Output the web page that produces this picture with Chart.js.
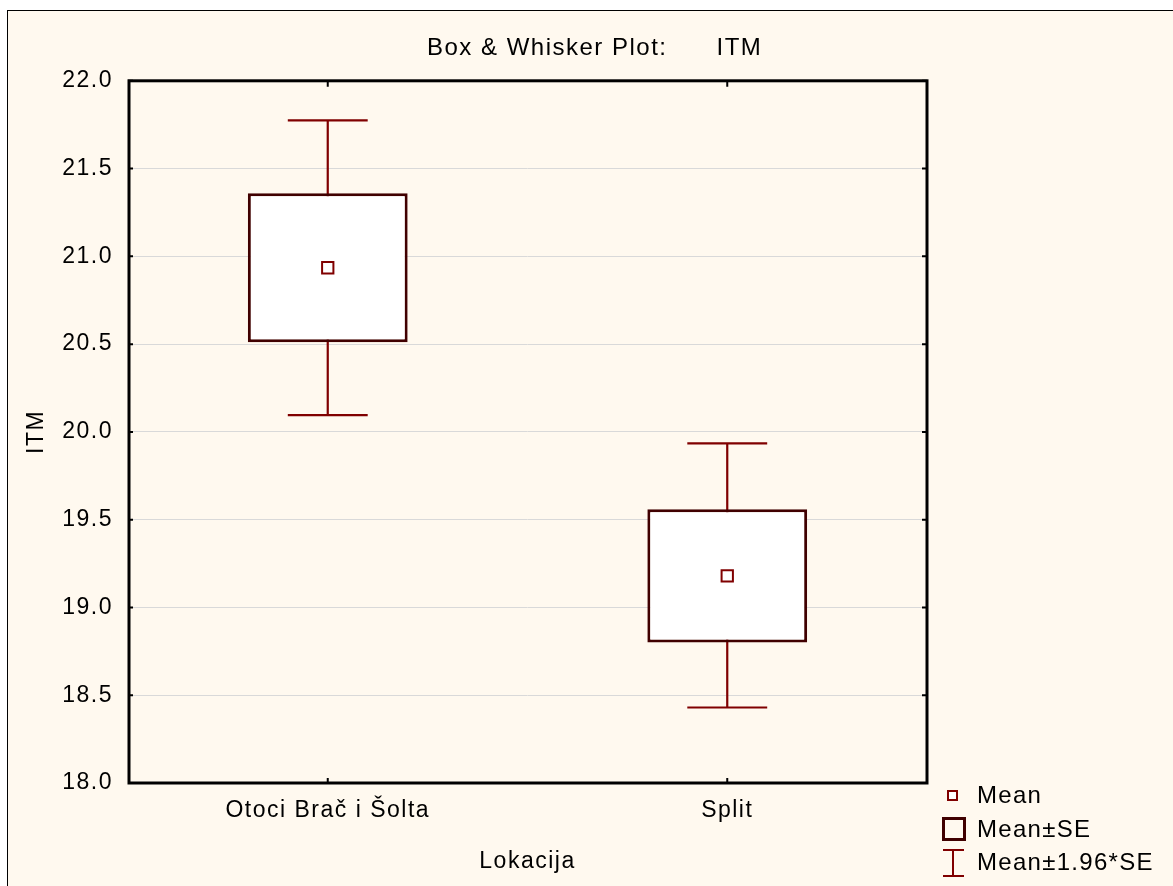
<!DOCTYPE html>
<html>
<head>
<meta charset="utf-8">
<script src="https://cdn.jsdelivr.net/npm/chart.js@4.4.1/dist/chart.umd.min.js"></script>
<style>
  html, body { margin: 0; padding: 0; background: #ffffff; width: 1173px; height: 886px; overflow: hidden; }
  #bg { position: absolute; left: 7px; top: 10px; width: 1170px; height: 880px;
        border-left: 1px solid #000; border-top: 1px solid #000; background: #FFF9EF; }
  #c { position: absolute; left: 0; top: 0; }
  .leg { position: absolute; left: 977px; font-family: "Liberation Sans", Arial, sans-serif;
         font-size: 24px; line-height: 24px; letter-spacing: 1.3px; color: #000; white-space: nowrap; }
  .ico { position: absolute; box-sizing: border-box; }
</style>
</head>
<body>
<div id="bg"></div>
<canvas id="c" width="1173" height="886" style="width:1173px;height:886px"></canvas>

<div class="ico" style="left:947px;top:790px;width:11px;height:11px;border:2px solid #800000;background:#fff"></div>
<div class="leg" style="top:783px">Mean</div>
<div class="ico" style="left:942px;top:817px;width:24px;height:24px;border:3px solid #400000;background:transparent"></div>
<div class="leg" style="top:817px">Mean±SE</div>
<div class="ico" style="left:943px;top:849px;width:21px;height:2px;background:#800000"></div>
<div class="ico" style="left:952px;top:849px;width:2px;height:28px;background:#800000"></div>
<div class="ico" style="left:943px;top:875px;width:21px;height:2px;background:#800000"></div>
<div class="leg" style="top:850px">Mean±1.96*SE</div>

<script>
// ---- data ----
const categories = ['Otoci Brač i Šolta', 'Split'];
const meanValues = [20.935, 19.18];
const seLow  = [20.51, 18.80];
const seHigh = [21.36, 19.56];
const ciLow  = [20.095, 18.43];
const ciHigh = [21.775, 19.935];
const yMin = 18.0, yMax = 22.0, yStep = 0.5;

const FONT = '"Liberation Sans", Arial, sans-serif';
Chart.defaults.font.family = FONT;
Chart.defaults.color = '#000';

const spacingPlugin = {
  id: 'spacing',
  beforeLayout(chart) { chart.ctx.letterSpacing = '1.5px'; },
  beforeDraw(chart) { chart.ctx.letterSpacing = '1.5px'; }
};

const whiskerPlugin = {
  id: 'whiskers',
  beforeDatasetsDraw(chart) {
    const ctx = chart.ctx, x = chart.scales.x, y = chart.scales.y;
    const catW = x.width / categories.length;
    const half = catW * 0.1;
    ctx.save();
    ctx.strokeStyle = '#800000';
    ctx.lineWidth = 2.2;
    categories.forEach((c, i) => {
      const px = x.getPixelForValue(i);
      const lo = y.getPixelForValue(ciLow[i]);
      const hi = y.getPixelForValue(ciHigh[i]);
      ctx.beginPath();
      ctx.moveTo(px, lo); ctx.lineTo(px, hi);
      ctx.moveTo(px - half, lo); ctx.lineTo(px + half, lo);
      ctx.moveTo(px - half, hi); ctx.lineTo(px + half, hi);
      ctx.stroke();
    });
    ctx.restore();
  }
};

const framePlugin = {
  id: 'frame',
  afterDatasetsDraw(chart) {
    const ctx = chart.ctx, a = chart.chartArea, x = chart.scales.x, y = chart.scales.y;
    ctx.save();
    ctx.strokeStyle = '#000';
    ctx.lineWidth = 2;
    ctx.beginPath();
    y.ticks.forEach(t => {
      const py = y.getPixelForValue(t.value);
      ctx.moveTo(a.left, py); ctx.lineTo(a.left + 5, py);
      ctx.moveTo(a.right - 5, py); ctx.lineTo(a.right, py);
    });
    categories.forEach((c, i) => {
      const px = x.getPixelForValue(i);
      ctx.moveTo(px, a.top); ctx.lineTo(px, a.top + 6);
      ctx.moveTo(px, a.bottom - 5); ctx.lineTo(px, a.bottom);
    });
    ctx.stroke();
    ctx.lineWidth = 3;
    ctx.strokeRect(a.left + 1, a.top, a.right - a.left - 1, a.bottom - a.top);
    ctx.restore();
  }
};

new Chart(document.getElementById('c'), {
  type: 'bar',
  data: {
    labels: categories,
    datasets: [
      {
        type: 'line',
        label: 'Mean',
        data: meanValues,
        showLine: false,
        pointStyle: 'rect',
        pointRadius: 8,
        pointHoverRadius: 8,
        pointBorderWidth: 2,
        pointBorderColor: '#800000',
        pointBackgroundColor: '#ffffff',
        order: 0
      },
      {
        type: 'bar',
        label: 'Mean±SE',
        data: seLow.map((l, i) => [l, seHigh[i]]),
        backgroundColor: '#ffffff',
        borderColor: '#400000',
        borderWidth: 3,
        borderSkipped: false,
        barPercentage: 0.4,
        categoryPercentage: 1,
        order: 1
      }
    ]
  },
  options: {
    responsive: false,
    animation: false,
    devicePixelRatio: 1,
    layout: { padding: 0 },
    plugins: {
      legend: { display: false },
      tooltip: { enabled: false },
      title: {
        display: true,
        text: '  Box & Whisker Plot:      ITM',
        color: '#000',
        font: { size: 24, weight: 'normal', family: FONT },
        padding: { top: 34, bottom: 18 }
      }
    },
    scales: {
      x: {
        type: 'category',
        offset: true,
        grid: { display: false, drawTicks: false },
        border: { display: false },
        ticks: { color: '#000', font: { size: 23 }, padding: 14, maxRotation: 0, autoSkip: false },
        title: { display: true, text: 'Lokacija', color: '#000', font: { size: 23 }, padding: { top: 0, bottom: 11 } },
        afterFit(s) { s.height = 103; }
      },
      y: {
        min: yMin, max: yMax,
        grid: { color: '#d9d9d9', lineWidth: 1, drawTicks: false },
        border: { display: false },
        ticks: { stepSize: yStep, color: '#000', font: { size: 23 }, padding: 15,
                 callback: v => Number(v).toFixed(1) },
        title: { display: true, text: 'ITM', color: '#000', font: { size: 23 }, padding: { top: 23, bottom: 0 } },
        afterFit(s) { s.width = 128; }
      },
      yRight: {
        position: 'right',
        min: 0, max: 1,
        grid: { display: false, drawTicks: false },
        border: { display: false },
        ticks: { display: false },
        afterFit(s) { s.width = 246; }
      }
    }
  },
  plugins: [spacingPlugin, whiskerPlugin, framePlugin]
});
</script>
</body>
</html>
